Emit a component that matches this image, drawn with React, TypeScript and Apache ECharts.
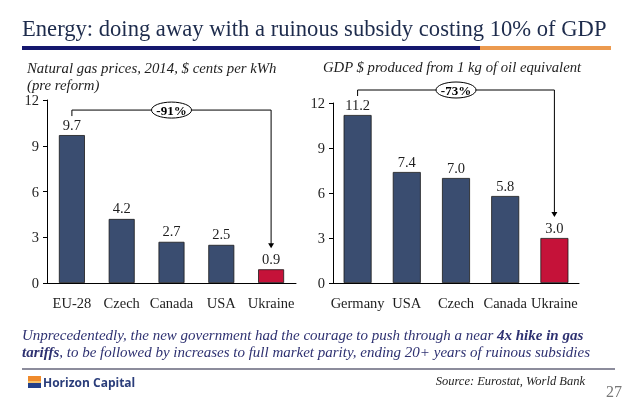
import React, { useEffect, useRef } from "react";
import * as echarts from "echarts";

const titleText = "Energy: doing away with a ruinous subsidy costing 10% of GDP";
const leftSubtitle = "Natural gas prices, 2014, $ cents per kWh\n(pre reform)";
const rightSubtitle = "GDP $ produced from 1 kg of oil equivalent";
const leftCategories = ["EU-28", "Czech", "Canada", "USA", "Ukraine"];
const leftValues = [9.7, 4.2, 2.7, 2.5, 0.9];
const rightCategories = ["Germany", "USA", "Czech", "Canada", "Ukraine"];
const rightValues = [11.2, 7.4, 7.0, 5.8, 3.0];
const leftChange = "-91%";
const rightChange = "-73%";
const yMax = 12;
const yInterval = 3;
const highlightCategory = "Ukraine";
const sourceText = "Source: Eurostat, World Bank";
const pageNumber = "27";

const SERIF = "Liberation Serif";
const NAVY_BAR = "#3a4d70";
const RED_BAR = "#c51239";
const TEXT_DARK = "#1e1e1e";

function barData(cats: string[], vals: number[]) {
  return vals.map((v, i) => ({
    value: v,
    itemStyle: { color: cats[i] === highlightCategory ? RED_BAR : NAVY_BAR },
  }));
}

function xAxisCfg(cats: string[], gridIndex: number) {
  return {
    type: "category",
    gridIndex,
    data: cats,
    axisLine: { show: true, lineStyle: { color: "#000", width: 1 } },
    axisTick: { show: false },
    axisLabel: { color: TEXT_DARK, fontFamily: SERIF, fontSize: 14.5, margin: 12, interval: 0 },
  };
}

function yAxisCfg(gridIndex: number) {
  return {
    type: "value",
    gridIndex,
    min: 0,
    max: yMax,
    interval: yInterval,
    axisLine: { show: true, lineStyle: { color: "#000", width: 1 } },
    axisTick: { show: true, length: 4, lineStyle: { color: "#000" } },
    splitLine: { show: false },
    axisLabel: { color: TEXT_DARK, fontFamily: SERIF, fontSize: 14.5, margin: 8 },
  };
}

function barSeries(cats: string[], vals: number[], idx: number, width: number) {
  return {
    type: "bar",
    xAxisIndex: idx,
    yAxisIndex: idx,
    data: barData(cats, vals),
    barWidth: width,
    itemStyle: { borderColor: "#1a1a1a", borderWidth: 0.8 },
    label: {
      show: true,
      position: "top",
      distance: 3,
      color: TEXT_DARK,
      fontFamily: SERIF,
      fontSize: 14.5,
      formatter: (p: any) => Number(p.value).toFixed(1),
    },
  };
}

function bracketSeries(vals: number[], idx: number, label: string) {
  const maxIdx = vals.indexOf(Math.max(...vals));
  const lastIdx = vals.length - 1;
  return {
    type: "custom",
    xAxisIndex: idx,
    yAxisIndex: idx,
    silent: true,
    encode: { x: [0, 2], y: [1, 3] },
    data: [[maxIdx, vals[maxIdx], lastIdx, vals[lastIdx]]],
    renderItem: (params: any, api: any) => {
      const pTop = api.coord([api.value(0), api.value(1)]);
      const pEnd = api.coord([api.value(2), api.value(3)]);
      const yH = pTop[1] - 25;
      const tipY = pEnd[1] - 21;
      const midX = (pTop[0] + pEnd[0]) / 2;
      return {
        type: "group",
        children: [
          {
            type: "polyline",
            shape: { points: [[pTop[0], yH + 6], [pTop[0], yH], [pEnd[0], yH], [pEnd[0], tipY - 4]] },
            style: { stroke: "#000", lineWidth: 1, fill: "none" },
          },
          {
            type: "polygon",
            shape: { points: [[pEnd[0] - 3, tipY - 5], [pEnd[0] + 3, tipY - 5], [pEnd[0], tipY]] },
            style: { fill: "#000" },
          },
          {
            type: "ellipse",
            shape: { cx: midX, cy: yH, rx: 20, ry: 8 },
            style: { fill: "#fff", stroke: "#000", lineWidth: 1 },
          },
          {
            type: "text",
            x: midX,
            y: yH,
            style: { text: label, fontFamily: SERIF, fontWeight: "bold", fontSize: 13, fill: "#000", align: "center", verticalAlign: "middle" },
          },
        ],
      };
    },
  };
}

export default function App() {
  const ref = useRef<HTMLDivElement>(null);
  useEffect(() => {
    if (!ref.current) return;
    const chart = echarts.init(ref.current, null, { renderer: "svg" });
    chart.setOption({
      animation: false,
      grid: [
        { left: 47, top: 100, width: 249, height: 183 },
        { left: 333, top: 103, width: 246, height: 180 },
      ],
      xAxis: [xAxisCfg(leftCategories, 0), xAxisCfg(rightCategories, 1)],
      yAxis: [yAxisCfg(0), yAxisCfg(1)],
      series: [
        barSeries(leftCategories, leftValues, 0, 26),
        barSeries(rightCategories, rightValues, 1, 28),
        bracketSeries(leftValues, 0, leftChange),
        bracketSeries(rightValues, 1, rightChange),
      ],
      graphic: [
        { type: "text", x: 22, y: 17, style: { text: titleText, fontFamily: SERIF, fontSize: 22.6, fill: "#1d2b4c" } },
        { type: "rect", shape: { x: 22, y: 46, width: 458, height: 4 }, style: { fill: "#15176e" } },
        { type: "rect", shape: { x: 480, y: 46, width: 131, height: 4 }, style: { fill: "#ec9a4f" } },
        { type: "text", x: 27, y: 59, style: { text: leftSubtitle, fontFamily: SERIF, fontSize: 14.8, fontStyle: "italic", fill: TEXT_DARK, lineHeight: 17 } },
        { type: "text", x: 323, y: 59, style: { text: rightSubtitle, fontFamily: SERIF, fontSize: 14.7, fontStyle: "italic", fill: TEXT_DARK } },
        {
          type: "text",
          x: 22,
          y: 326,
          style: {
            text: "{i|Unprecedentedly, the new government had the courage to push through a near }{b|4x hike in gas}\n{b|tariffs}{i|, to be followed by increases to full market parity, ending 20+ years of ruinous subsidies}",
            rich: {
              i: { fontFamily: SERIF, fontSize: 15, fontStyle: "italic", fill: "#2e3171", lineHeight: 17 },
              b: { fontFamily: SERIF, fontSize: 15, fontStyle: "italic", fontWeight: "bold", fill: "#2e3171", lineHeight: 17 },
            },
          },
        },
        { type: "line", shape: { x1: 22, y1: 369, x2: 615, y2: 369 }, style: { stroke: "#1b1b3a", lineWidth: 1.2 } },
        { type: "text", x: 585, y: 374, style: { text: sourceText, fontFamily: SERIF, fontSize: 12.5, fontStyle: "italic", fill: TEXT_DARK, align: "right" } },
        { type: "text", x: 622, y: 383, style: { text: pageNumber, fontFamily: SERIF, fontSize: 16, fill: "#777", align: "right" } },
        { type: "rect", shape: { x: 28, y: 376, width: 13, height: 5 }, style: { fill: "#ef8a2c" } },
        { type: "rect", shape: { x: 28, y: 381, width: 13, height: 2 }, style: { fill: "#f6c26a" } },
        { type: "rect", shape: { x: 28, y: 383, width: 13, height: 5 }, style: { fill: "#23408a" } },
        { type: "text", x: 43, y: 376, style: { text: "Horizon Capital", fontFamily: "Open Sans", fontWeight: "bold", fontSize: 12, fill: "#2a3d7a" } },
      ],
    });
    return () => chart.dispose();
  }, []);
  return (
    <div style={{ position: "fixed", left: 0, top: 0 }}>
      <div ref={ref} style={{ width: 638, height: 399 }} />
    </div>
  );
}
